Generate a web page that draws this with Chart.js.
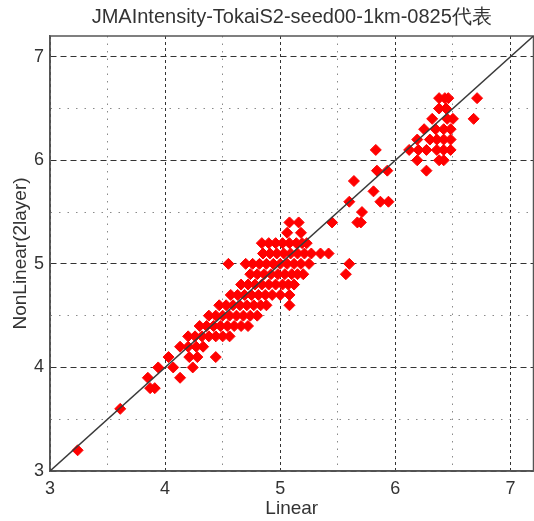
<!DOCTYPE html>
<html>
<head>
<meta charset="utf-8">
<script src="https://cdn.jsdelivr.net/npm/chart.js@4/dist/chart.umd.min.js"></script>
<style>
  html, body { margin: 0; padding: 0; background: #ffffff; overflow: hidden; }
  #wrap { width: 540px; height: 521px; }
</style>
</head>
<body>
<div id="wrap"><canvas id="c" width="540" height="521"></canvas></div>
<script>
// Seismic intensity comparison: linear vs. nonlinear (2-layer) response
const chartTitle = 'JMAIntensity-TokaiS2-seed00-1km-0825代表';
const xTitle = 'Linear';
const yTitle = 'NonLinear(2layer)';

// NonLinear intensity levels (rows) and the Linear values observed at each level
const nonLinearLevels = [3.2, 3.6, 3.8, 3.9, 4.0, 4.1, 4.2, 4.3, 4.4, 4.5, 4.6, 4.7, 4.8, 4.9, 5.0, 5.1, 5.2, 5.3, 5.4, 5.5, 5.6, 5.7, 5.8, 5.9, 6.0, 6.1, 6.2, 6.3, 6.4, 6.5, 6.6];
const linearByLevel = [
  [3.24],
  [3.61],
  [3.87, 3.91],
  [3.85, 4.13],
  [3.94, 4.07, 4.24],
  [4.03, 4.21, 4.28, 4.44],
  [4.13, 4.20, 4.27, 4.33],
  [4.20, 4.26, 4.32, 4.38, 4.44, 4.50, 4.56],
  [4.30, 4.36, 4.42, 4.48, 4.54, 4.60, 4.66, 4.72],
  [4.38, 4.44, 4.50, 4.56, 4.62, 4.68, 4.74, 4.80],
  [4.47, 4.53, 4.59, 4.65, 4.71, 4.77, 4.83, 4.88, 5.08],
  [4.57, 4.63, 4.69, 4.75, 4.81, 4.87, 4.93, 5.00, 5.08],
  [4.66, 4.72, 4.78, 4.84, 4.90, 4.96, 5.02, 5.07, 5.12],
  [4.74, 4.80, 4.86, 4.92, 4.98, 5.04, 5.10, 5.15, 5.20, 5.57],
  [4.55, 4.70, 4.76, 4.82, 4.88, 4.94, 5.00, 5.06, 5.12, 5.18, 5.25, 5.60],
  [4.85, 4.91, 4.97, 5.03, 5.09, 5.15, 5.21, 5.27, 5.35, 5.42],
  [4.84, 4.90, 4.96, 5.02, 5.08, 5.14, 5.19, 5.23],
  [5.06, 5.18],
  [5.08, 5.16, 5.45, 5.67, 5.70],
  [5.71],
  [5.60, 5.87, 5.94],
  [5.81],
  [5.64],
  [5.84, 5.93, 6.27],
  [6.19, 6.38, 6.42],
  [5.83, 6.12, 6.20, 6.27, 6.36, 6.42, 6.48],
  [6.19, 6.30, 6.36, 6.42, 6.48],
  [6.25, 6.35, 6.42, 6.48],
  [6.32, 6.45, 6.50, 6.68],
  [6.38, 6.44],
  [6.38, 6.43, 6.46, 6.71]
];

// Axis range, grid positions and labelled ticks
const axisMin = 3;
const axisMax = 7.2;
const gridValues = [3, 3.5, 4, 4.5, 5, 5.5, 6, 6.5, 7];
const tickLabels = [3, 4, 5, 6, 7];
// 1:1 reference line
const equalLine = [3, 7.2];

const points = [];
nonLinearLevels.forEach((lvl, i) => {
  linearByLevel[i].forEach(v => points.push({ x: v, y: lvl }));
});

const isMajor = v => tickLabels.includes(Math.round(v * 100) / 100);
const fontFamily = '"Liberation Sans", Arial, sans-serif';

function axisOptions(horizontal, title) {
  return {
    type: 'linear',
    min: axisMin,
    max: axisMax,
    afterBuildTicks: s => { s.ticks = gridValues.map(v => ({ value: v })); },
    afterFit: s => { if (horizontal) s.height = 50; else s.width = 50; },
    ticks: {
      autoSkip: false,
      maxRotation: 0,
      padding: horizontal ? 7 : 6,
      color: '#333333',
      font: { family: fontFamily, size: 18 },
      callback: v => (isMajor(v) ? String(v) : '')
    },
    grid: {
      drawTicks: false,
      lineWidth: 1,
      color: c => (c.tick && isMajor(c.tick.value) ? '#333333' : '#8a8a8a')
    },
    border: {
      display: true,
      color: '#555555',
      width: 1.5,
      dash: c => {
        if (!c.tick) return [];
        if (isMajor(c.tick.value)) return horizontal ? [3, 3] : [6, 4];
        return horizontal ? [1.5, 6] : [1.5, 7];
      }
    },
    title: {
      display: true,
      text: title,
      color: '#333333',
      font: { family: fontFamily, size: 19 },
      padding: horizontal ? { top: 0, bottom: 1 } : { top: 9, bottom: 0 }
    }
  };
}

// Box around the plotting area
const frame = {
  id: 'frame',
  beforeDatasetsDraw(chart) {
    const { ctx, chartArea: a } = chart;
    ctx.save();
    ctx.strokeStyle = '#555555';
    ctx.lineWidth = 1.5;
    ctx.strokeRect(a.left, a.top, a.right - a.left, a.bottom - a.top);
    ctx.restore();
  }
};

new Chart(document.getElementById('c'), {
  type: 'scatter',
  data: {
    datasets: [
      {
        type: 'line',
        data: [{ x: equalLine[0], y: equalLine[0] }, { x: equalLine[1], y: equalLine[1] }],
        borderColor: '#3a3a3a',
        borderWidth: 1.5,
        pointRadius: 0,
        fill: false,
        order: 0
      },
      {
        data: points,
        pointStyle: 'rectRot',
        radius: 5.5,
        backgroundColor: '#ff0000',
        borderColor: '#ff0000',
        borderWidth: 1,
        order: 1
      }
    ]
  },
  options: {
    responsive: false,
    animation: false,
    devicePixelRatio: 1,
    layout: { padding: { left: 0, right: 5, top: 0, bottom: 0 } },
    plugins: {
      legend: { display: false },
      tooltip: { enabled: false },
      title: {
        display: true,
        text: chartTitle,
        fullSize: false,
        color: '#333333',
        font: { family: fontFamily, size: 20, weight: 'normal' },
        padding: { top: 5, bottom: 7 }
      }
    },
    scales: {
      x: axisOptions(true, xTitle),
      y: axisOptions(false, yTitle)
    }
  },
  plugins: [frame]
});
</script>
</body>
</html>
